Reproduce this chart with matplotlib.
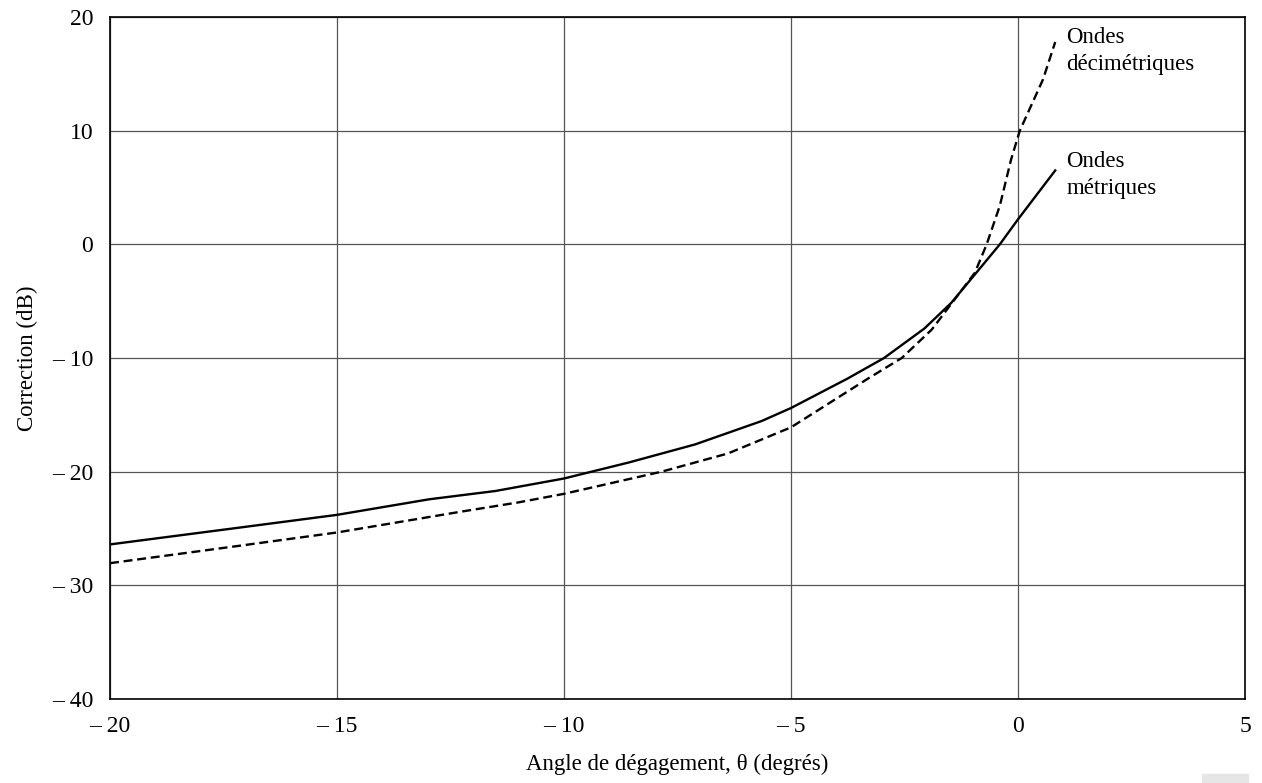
#!/usr/bin/env python3
import matplotlib
matplotlib.use("Agg")
from matplotlib import pyplot as plt
from matplotlib.patches import Rectangle

## curve readings
x_metr = [-20, -17.3, -15, -12.97, -11.51, -10, -8.58, -7.11, -5.65, -5, -3.75, -2.95,
          -2.06, -1.47, -0.95, -0.4, 0, 0.82]
y_metr = [-26.4, -25.0, -23.8, -22.43, -21.7, -20.6, -19.2, -17.6, -15.55, -14.4, -11.8, -10.0,
          -7.4, -5.15, -2.65, 0.0, 2.2, 6.5]

x_deci = [-20, -17.3, -15, -12.24, -11, -10, -7.85, -6.39, -5, -3.3, -2.56, -1.9, -1.31,
          -0.95, -0.69, -0.4, -0.15, 0.04, 0.55, 0.82]
y_deci = [-28.05, -26.6, -25.35, -23.5, -22.7, -21.95, -20.0, -18.4, -16.1, -11.8, -10.0, -7.5, -4.4,
          -2.5, 0.0, 3.4, 7.5, 10.0, 14.5, 17.8]

x_ticks = [-20, -15, -10, -5, 0, 5]
x_tick_labels = ["\u2013 20", "\u2013 15", "\u2013 10", "\u2013 5", "0", "5"]
y_ticks = [-40, -30, -20, -10, 0, 10, 20]
y_tick_labels = ["\u2013 40", "\u2013 30", "\u2013 20", "\u2013 10", "0", "10", "20"]

plt.rcParams['font.family'] = ['Liberation Serif', 'DejaVu Serif']

fig = plt.figure(figsize=(12.62, 7.83), dpi=100)
ax = fig.add_axes([110/1262, 1-699/783, 1135/1262, 682/783])

ax.plot(x_metr, y_metr, color='black', lw=1.7)
ax.plot(x_deci, y_deci, color='black', lw=1.7, linestyle=(0, (3.8, 2)))

ax.set_xlim(-20, 5)
ax.set_ylim(-40, 20)
ax.set_xticks(x_ticks)
ax.set_xticklabels(x_tick_labels)
ax.set_yticks(y_ticks)
ax.set_yticklabels(y_tick_labels)
ax.tick_params(length=0, labelsize=17, pad=12)
ax.grid(True, color='#555555', lw=0.9)
ax.set_axisbelow(True)
for s in ax.spines.values():
    s.set_linewidth(1.2)

ax.set_xlabel("Angle de d\u00e9gagement, \u03b8 (degr\u00e9s)", fontsize=16.5, labelpad=12)
ax.set_ylabel("Correction (dB)", fontsize=16.5, labelpad=10)

## multi-line text: baseline refers to the last line
ax.text(1.06, 15.3, "Ondes\nd\u00e9cim\u00e9triques", fontsize=16.5, va='baseline', ha='left',
        linespacing=1.4)
ax.text(1.06, 4.4, "Ondes\nm\u00e9triques", fontsize=16.5, va='baseline', ha='left',
        linespacing=1.4)

## small grey box in the lower right corner of the page
fig.patches.append(Rectangle((1202/1262, 0), 46/1262, 9/783, transform=fig.transFigure,
                             color='#e6e6e6', zorder=0))

fig.savefig("out.png", dpi=100)
